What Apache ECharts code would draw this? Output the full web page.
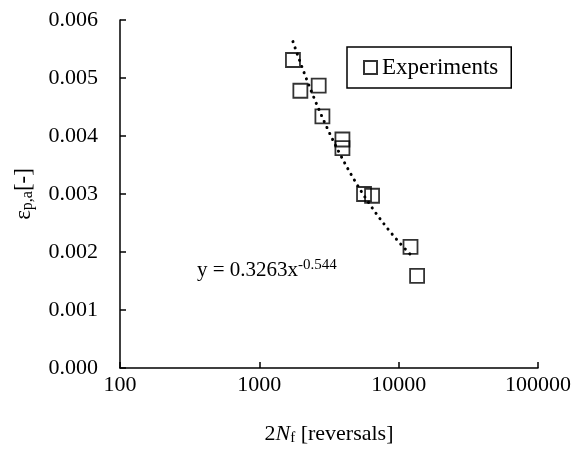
<!DOCTYPE html>
<html>
<head>
<meta charset="utf-8">
<script src="https://cdn.jsdelivr.net/npm/echarts@6/dist/echarts.min.js"></script>
<style>html,body{margin:0;padding:0;background:#fff}#c{width:577px;height:457px}</style>
</head>
<body>
<div id="c"></div>
<script>
// Data
var reversals = [1743, 1970, 2667, 2836, 3948, 3948, 5641, 6442, 12160, 13560];
var strainAmp = [0.00531, 0.00478, 0.00487, 0.00434, 0.00394, 0.00379, 0.00300, 0.00297, 0.00209, 0.00159];
var trendCoef = [0.3263, -0.544];      // y = a * x^b (printed on chart)
var trendRange = [1743, 12500];
var xTicks = [100, 1000, 10000, 100000];
var yTicks = [0, 0.001, 0.002, 0.003, 0.004, 0.005, 0.006];

var expData = reversals.map(function (x, i) { return [x, strainAmp[i]]; });
var trendData = [];
var nT = 80;
var l0 = Math.log10(trendRange[0]), l1 = Math.log10(trendRange[1]);
for (var i = 0; i <= nT; i++) {
  var x = Math.pow(10, l0 + (l1 - l0) * i / nT);
  trendData.push([x, trendCoef[0] * Math.pow(x, trendCoef[1])]);
}

var font = '"Liberation Serif", "Times New Roman", serif';
var chart = echarts.init(document.getElementById('c'), null, {renderer: 'canvas'});
chart.setOption({
  animation: false,
  backgroundColor: '#fff',
  grid: {left: 120, right: 39, top: 20, bottom: 89, containLabel: false},
  legend: {
    data: ['Experiments'],
    left: 347, top: 47,
    padding: [9, 13, 9, 16],
    itemWidth: 13, itemHeight: 13, itemGap: 5,
    borderColor: '#000', borderWidth: 1.5,
    textStyle: {fontFamily: font, fontSize: 23, color: '#000'},
    backgroundColor: '#fff'
  },
  xAxis: {
    type: 'log', logBase: 10, min: xTicks[0], max: xTicks[xTicks.length - 1],
    axisLine: {lineStyle: {color: '#000', width: 1.5}},
    axisTick: {inside: true, length: 6, lineStyle: {color: '#000', width: 1.5}},
    minorTick: {show: false},
    splitLine: {show: false},
    axisLabel: {fontFamily: font, fontSize: 22, color: '#000', margin: 6,
      formatter: function (v) { return String(Math.round(v)); }},
    name: '{n|2}{i|N}{s|f}{n| [reversals]}',
    nameLocation: 'middle', nameGap: 55,
    nameTextStyle: {
      fontFamily: font, fontSize: 22, color: '#000',
      rich: {
        n: {fontFamily: font, fontSize: 22, color: '#000'},
        i: {fontFamily: font, fontSize: 22, color: '#000', fontStyle: 'italic'},
        s: {fontFamily: font, fontSize: 15, color: '#000', verticalAlign: 'bottom', padding: [8, 0, 0, 0]}
      }
    }
  },
  yAxis: {
    type: 'value', min: yTicks[0], max: yTicks[yTicks.length - 1], interval: 0.001,
    axisLine: {show: true, lineStyle: {color: '#000', width: 1.5}},
    axisTick: {show: true, inside: true, length: 6, lineStyle: {color: '#000', width: 1.5}},
    splitLine: {show: false},
    axisLabel: {fontFamily: font, fontSize: 22, color: '#000', margin: 22,
      formatter: function (v) { return v.toFixed(3); }},
    name: '{n|ε}{s|p,a}{n|[-]}',
    nameLocation: 'middle', nameGap: 84, nameRotate: 90,
    nameTextStyle: {
      fontFamily: font, fontSize: 22, color: '#000',
      rich: {
        n: {fontFamily: font, fontSize: 23, color: '#000'},
        s: {fontFamily: font, fontSize: 16, color: '#000', verticalAlign: 'bottom', padding: [8, 0, 0, 0]}
      }
    }
  },
  series: [
    {
      name: 'Trend', type: 'line', data: trendData, showSymbol: false, symbol: 'none',
      smooth: false, silent: true, z: 3,
      lineStyle: {color: '#000', width: 3, type: [0.1, 6.5], cap: 'round'}
    },
    {
      name: 'Experiments', type: 'scatter', data: expData, symbol: 'rect', symbolSize: 14, z: 2,
      itemStyle: {color: 'rgba(255,255,255,0)', borderColor: '#000', borderWidth: 1.8}
    }
  ],
  graphic: [{
    type: 'text', left: 197, top: 258,
    style: {
      text: '{m|y = 0.3263x}{p|-0.544}',
      rich: {
        m: {fontFamily: font, fontSize: 21, fill: '#000', color: '#000'},
        p: {fontFamily: font, fontSize: 15, fill: '#000', color: '#000', verticalAlign: 'top', padding: [0, 0, 10, 0]}
      }
    }
  }]
});
</script>
</body>
</html>
